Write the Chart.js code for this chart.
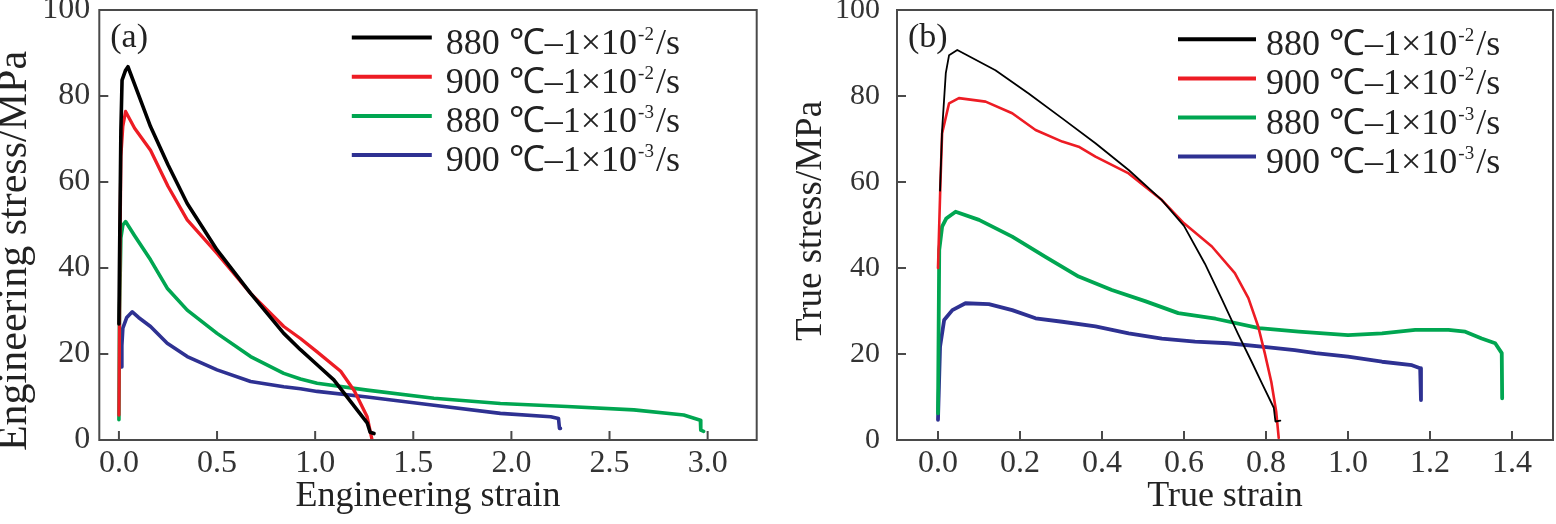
<!DOCTYPE html>
<html>
<head>
<meta charset="utf-8">
<script src="https://cdn.jsdelivr.net/npm/chart.js@4.4.1/dist/chart.umd.min.js"></script>
<style>
html, body { margin: 0; padding: 0; background: #fff; }
#wrap { position: relative; width: 1556px; height: 524px; }
.panel { position: absolute; top: 0; width: 778px; height: 524px; }
</style>
</head>
<body>
<div id="wrap">
  <div class="panel" style="left:0"><canvas id="chartA" width="778" height="524"></canvas></div>
  <div class="panel" style="left:778px"><canvas id="chartB" width="778" height="524"></canvas></div>
</div>
<script>
// legend text pieces
const seriesLabels = ['880 ℃–1×10', '900 ℃–1×10', '880 ℃–1×10', '900 ℃–1×10'];
const rateExponents = ['-2', '-2', '-3', '-3'];

// tick values
const engStrainTicks = [0, 0.5, 1.0, 1.5, 2.0, 2.5, 3.0];
const trueStrainTicks = [0, 0.2, 0.4, 0.6, 0.8, 1.0, 1.2, 1.4];
const stressTicks = [0, 20, 40, 60, 80, 100];

// (a) engineering strain / stress
const engX880f = [0, 0.003, 0.01, 0.016, 0.034, 0.046, 0.08, 0.161, 0.25, 0.348, 0.5, 0.671, 0.84, 0.925, 1.01, 1.095, 1.18, 1.265, 1.28, 1.30];
const engY880f = [27, 42, 72, 83.7, 86, 86.8, 82.7, 72.9, 64, 55, 44.2, 34.1, 24.8, 21, 17.5, 14, 9, 4, 1.8, 1.5];
const engX900f = [0, 0.005, 0.01, 0.02, 0.034, 0.08, 0.161, 0.25, 0.348, 0.5, 0.671, 0.84, 0.925, 1.01, 1.13, 1.2, 1.265, 1.29];
const engY900f = [5.8, 43, 66, 73, 76.4, 72.5, 67.4, 59, 51.2, 43.4, 34.1, 26.4, 23.6, 20.5, 16, 11.4, 5.4, 0];
const engX880s = [0, 0.003, 0.01, 0.02, 0.034, 0.08, 0.161, 0.246, 0.348, 0.5, 0.671, 0.84, 0.925, 1.01, 1.265, 1.605, 1.944, 2.284, 2.624, 2.878, 2.963, 2.965, 2.98];
const engY880s = [4.7, 30, 47, 50, 50.8, 47.5, 41.9, 35.3, 30.2, 24.8, 19.4, 15.5, 14.2, 13.2, 11.6, 9.7, 8.5, 7.8, 7.0, 5.8, 4.6, 2.3, 2.0];
const engX900s = [0.012, 0.015, 0.02, 0.04, 0.068, 0.1, 0.161, 0.246, 0.348, 0.5, 0.671, 0.84, 0.925, 1.01, 1.265, 1.605, 1.944, 2.2, 2.24, 2.245, 2.25];
const engY900s = [17, 22, 26, 28.5, 29.8, 28.5, 26.4, 22.5, 19.4, 16.3, 13.6, 12.4, 11.9, 11.3, 10.0, 8.1, 6.2, 5.4, 5.0, 2.7, 2.7];

// (b) true strain / stress
const trueX880f = [0.005, 0.01, 0.019, 0.027, 0.047, 0.14, 0.221, 0.303, 0.384, 0.465, 0.546, 0.6, 0.651, 0.692, 0.732, 0.765, 0.791, 0.819, 0.823, 0.835];
const trueY880f = [58, 72, 85.3, 89.5, 90.7, 86, 80.6, 74.8, 69, 62.8, 55.8, 49.8, 41, 32.8, 24.6, 18.2, 13, 7.5, 4.3, 4.5];
const trueX900f = [0.0, 0.003, 0.006, 0.01, 0.027, 0.051, 0.116, 0.181, 0.238, 0.303, 0.343, 0.384, 0.465, 0.546, 0.6, 0.668, 0.724, 0.757, 0.781, 0.797, 0.813, 0.825, 0.831];
const trueY900f = [40, 50, 60, 71.3, 78.3, 79.5, 78.7, 76, 72.1, 69.4, 68.2, 65.9, 62, 55.8, 50.4, 45, 38.8, 33, 26.4, 20.2, 13.5, 6.5, 0.5];
const trueX880s = [0.0, 0.003, 0.01, 0.02, 0.043, 0.1, 0.181, 0.262, 0.343, 0.424, 0.505, 0.586, 0.677, 0.783, 0.88, 1.0, 1.083, 1.164, 1.245, 1.286, 1.326, 1.359, 1.375, 1.376];
const trueY880s = [6.2, 44.2, 49.6, 51.5, 53.1, 51.2, 47.3, 42.6, 38, 34.9, 32.3, 29.5, 28.2, 26, 25.2, 24.4, 24.8, 25.6, 25.6, 25.2, 23.6, 22.5, 20.2, 9.7];
const trueX900s = [0.0, 0.005, 0.015, 0.035, 0.067, 0.124, 0.181, 0.238, 0.303, 0.384, 0.465, 0.546, 0.627, 0.708, 0.789, 0.87, 0.921, 1.0, 1.083, 1.156, 1.176, 1.178];
const trueY900s = [4.7, 21.7, 27.9, 30.2, 31.8, 31.6, 30.2, 28.3, 27.5, 26.4, 24.8, 23.6, 22.9, 22.5, 21.7, 20.9, 20.2, 19.4, 18.2, 17.4, 16.7, 9.3];

const FONT = "'Liberation Serif', 'Times New Roman', serif";
const colors = ['#000000', '#ed1c24', '#00a651', '#2e3192'];

function pairs(xs, ys) {
    return xs.map((x, i) => ({ x: x, y: ys[i] }));
}

// box, inward ticks, panel tag, y title and legend
const framePlugin = {
    id: 'frame',
    afterDatasetsDraw(chart, args, opts) {
        const ctx = chart.ctx;
        const a = chart.chartArea;
        const sx = chart.scales.x, sy = chart.scales.y;
        ctx.save();
        ctx.strokeStyle = '#4a4a4a';
        ctx.lineWidth = 2;
        ctx.strokeRect(a.left, a.top, a.right - a.left, a.bottom - a.top);
        ctx.beginPath();
        sx.ticks.forEach(t => {
            const px = sx.getPixelForValue(t.value);
            ctx.moveTo(px, a.bottom);
            ctx.lineTo(px, a.bottom - 9);
        });
        sy.ticks.forEach(t => {
            const py = sy.getPixelForValue(t.value);
            ctx.moveTo(a.left, py);
            ctx.lineTo(a.left + 9, py);
        });
        ctx.stroke();

        ctx.fillStyle = '#222';
        ctx.textBaseline = 'alphabetic';
        ctx.textAlign = 'left';
        ctx.font = '34px ' + FONT;
        ctx.fillText(opts.tag, a.left + 11, a.top + 37);

        // rotated y title
        ctx.save();
        ctx.translate(opts.yTitleX, opts.yTitleY);
        ctx.rotate(-Math.PI / 2);
        ctx.textAlign = 'center';
        ctx.textBaseline = 'middle';
        ctx.font = opts.yTitleSize + 'px ' + FONT;
        ctx.fillText(opts.yTitle, 0, 0);
        ctx.restore();

        // legend
        chart.data.datasets.forEach((ds, i) => {
            const y = a.top + opts.legendTop + i * opts.legendGap;
            const x0 = a.left + opts.legendLeft;
            ctx.strokeStyle = ds.borderColor;
            ctx.lineWidth = 4;
            ctx.beginPath();
            ctx.moveTo(x0, y);
            ctx.lineTo(x0 + opts.legendLine, y);
            ctx.stroke();
            let tx = x0 + opts.legendLine + opts.legendTextGap;
            const base = y + 16;
            ctx.fillStyle = '#222';
            ctx.textAlign = 'left';
            ctx.textBaseline = 'alphabetic';
            ctx.font = '36px ' + FONT;
            ctx.fillText(seriesLabels[i], tx, base);
            tx += ctx.measureText(seriesLabels[i]).width + 1;
            ctx.font = '19px ' + FONT;
            ctx.fillText(rateExponents[i], tx, base - 14);
            tx += ctx.measureText(rateExponents[i]).width + 2;
            ctx.font = '36px ' + FONT;
            ctx.fillText('/s', tx, base);
        });
        ctx.restore();
    }
};

function makeChart(id, cfg) {
    const ctx = document.getElementById(id).getContext('2d');
    return new Chart(ctx, {
        type: 'line',
        data: {
            datasets: cfg.series.map((s, i) => ({
                label: seriesLabels[i] + rateExponents[i] + '/s',
                data: pairs(s[0], s[1]),
                borderColor: colors[i],
                borderWidth: cfg.widths[i],
                pointRadius: 0,
                tension: 0,
                borderJoinStyle: 'round',
                borderCapStyle: 'round',
                fill: false
            }))
        },
        options: {
            responsive: false,
            animation: false,
            layout: { padding: { top: 10, right: cfg.padRight, bottom: 0, left: 0 } },
            scales: {
                x: {
                    type: 'linear',
                    min: cfg.xMin,
                    max: cfg.xMax,
                    afterBuildTicks: s => { s.ticks = cfg.xTicks.map(v => ({ value: v })); },
                    afterFit: s => { s.height = 84; s.paddingLeft = 0; s.paddingRight = 0; },
                    grid: { display: false, drawTicks: false },
                    border: { display: false },
                    ticks: {
                        padding: 4,
                        color: '#333',
                        autoSkip: false,
                        maxRotation: 0,
                        font: { family: FONT, size: 32 },
                        callback: v => Number(v).toFixed(1)
                    },
                    title: {
                        display: true,
                        text: cfg.xTitle,
                        color: '#222',
                        font: { family: FONT, size: 36 },
                        padding: { top: 0, bottom: 6 }
                    }
                },
                y: {
                    min: 0,
                    max: 100,
                    afterBuildTicks: s => { s.ticks = stressTicks.map(v => ({ value: v })); },
                    afterFit: s => { s.width = cfg.yWidth; s.paddingTop = 0; s.paddingBottom = 0; },
                    grid: { display: false, drawTicks: false },
                    border: { display: false },
                    ticks: {
                        padding: cfg.yPad,
                        color: '#333',
                        font: { family: FONT, size: cfg.yTickSize },
                        callback: v => String(v)
                    }
                }
            },
            plugins: {
                legend: { display: false },
                tooltip: { enabled: false },
                frame: cfg.frame
            }
        },
        plugins: [framePlugin]
    });
}

makeChart('chartA', {
    series: [[engX880f, engY880f], [engX900f, engY900f], [engX880s, engY880s], [engX900s, engY900s]],
    widths: [3.6, 3.3, 3.6, 3.6],
    xMin: -0.1, xMax: 3.25,
    xTicks: engStrainTicks,
    xTitle: 'Engineering strain',
    yWidth: 99.3, yPad: 9, yTickSize: 32, padRight: 21.3,
    frame: {
        tag: '(a)', yTitle: 'Engineering stress/MPa', yTitleX: 15, yTitleY: 251, yTitleSize: 42,
        legendLeft: 252.5, legendTop: 27.5, legendGap: 39.2, legendLine: 80, legendTextGap: 14
    }
});

makeChart('chartB', {
    series: [[trueX880f, trueY880f], [trueX900f, trueY900f], [trueX880s, trueY880s], [trueX900s, trueY900s]],
    widths: [1.8, 2.6, 3.8, 3.8],
    xMin: -0.1, xMax: 1.5,
    xTicks: trueStrainTicks,
    xTitle: 'True strain',
    yWidth: 119, yPad: 17, yTickSize: 30, padRight: 3,
    frame: {
        tag: '(b)', yTitle: 'True stress/MPa', yTitleX: 33, yTitleY: 221, yTitleSize: 37,
        legendLeft: 281, legendTop: 29.3, legendGap: 39.1, legendLine: 78, legendTextGap: 10
    }
});
</script>
</body>
</html>
